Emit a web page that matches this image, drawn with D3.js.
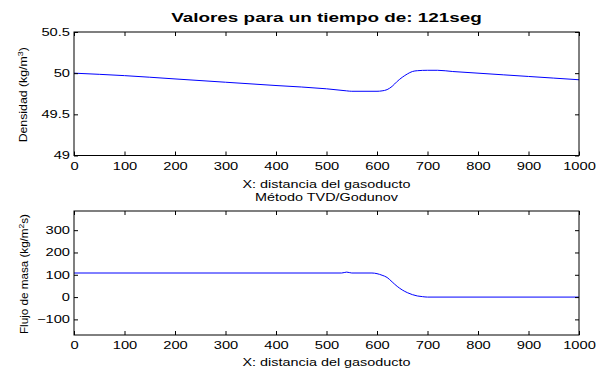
<!DOCTYPE html>
<html>
<head>
<meta charset="utf-8">
<script src="https://cdn.jsdelivr.net/npm/d3@7"></script>
<style>
	body { margin: 0; background: #fff; }
	svg text { font-family: Arial, "Liberation Sans", sans-serif; fill: #000; }
</style>
</head>
<body>
<div id="chart"></div>
<script>
// densidad a lo largo del gasoducto
var densX = [0, 100, 200, 300, 400, 500, 540, 550, 600, 610, 620, 630, 640, 650, 660, 670, 680, 700, 720, 750, 800, 850, 900, 950, 1000];
var densY = [50.00, 49.97, 49.93, 49.89, 49.85, 49.81, 49.785, 49.78, 49.78, 49.785, 49.80, 49.84, 49.90, 49.95, 49.99, 50.02, 50.03, 50.035, 50.035, 50.02, 50.00, 49.98, 49.96, 49.94, 49.92];

// flujo de masa
var flujoX = [0, 530, 540, 550, 590, 600, 610, 620, 630, 640, 650, 660, 670, 680, 690, 700, 1000];
var flujoY = [108, 108, 112, 108, 108, 105, 98, 88, 68, 48, 32, 20, 11, 5, 2, 0, 0];

var xTicks = [0, 100, 200, 300, 400, 500, 600, 700, 800, 900, 1000];
var densTicks = [49, 49.5, 50, 50.5];
var flujoTicks = [-100, 0, 100, 200, 300];

var W = 607, H = 369;
var LEFT = 74, RIGHT = 579;
var TICK = 4;
var TICK_SX = 1.4;   // texto ensanchado como en la figura original
var LABEL_SX = 1.31;

var svg = d3.select("#chart").append("svg")
	.attr("width", W)
	.attr("height", H);

var x = d3.scaleLinear().domain([0, 1000]).range([LEFT, RIGHT]);

function drawPanel(top, bottom, yDomain, yTicks, xs, ys, fmt) {
	var y = d3.scaleLinear().domain(yDomain).range([bottom, top]);
	var g = svg.append("g");

	var line = d3.line()
		.x(function(d, i) { return x(xs[i]); })
		.y(function(d, i) { return y(ys[i]); })
		.curve(d3.curveMonotoneX);
	g.append("path")
		.datum(ys)
		.attr("d", line)
		.attr("fill", "none")
		.attr("stroke", "#0000ff")
		.attr("stroke-width", 1);

	var bottomAx = g.append("g").attr("transform", "translate(0," + bottom + ")")
		.call(d3.axisBottom(x).tickValues(xTicks).tickSize(-TICK).tickPadding(7).tickFormat(d3.format("d")));
	var topAx = g.append("g").attr("transform", "translate(0," + top + ")")
		.call(d3.axisTop(x).tickValues(xTicks).tickSize(-TICK).tickFormat(""));
	var leftAx = g.append("g").attr("transform", "translate(" + LEFT + ",0)")
		.call(d3.axisLeft(y).tickValues(yTicks).tickSize(-TICK).tickPadding(4).tickFormat(fmt));
	var rightAx = g.append("g").attr("transform", "translate(" + RIGHT + ",0)")
		.call(d3.axisRight(y).tickValues(yTicks).tickSize(-TICK).tickFormat(""));

	[bottomAx, topAx, leftAx, rightAx].forEach(function(a) {
		a.select(".domain").remove();
		a.selectAll("line").attr("stroke", "#000");
		a.selectAll("text")
			.attr("font-size", "10.5px")
			.attr("fill", "#000")
			.attr("transform", "scale(" + TICK_SX + ",1)");
	});
	leftAx.selectAll("text").attr("x", -4 / TICK_SX);

	g.append("rect")
		.attr("x", LEFT).attr("y", top)
		.attr("width", RIGHT - LEFT).attr("height", bottom - top)
		.attr("fill", "none")
		.attr("stroke", "#000")
		.attr("stroke-width", 1);
	return y;
}

drawPanel(32, 155.5, [49, 50.5], densTicks, densX, densY, function(d) { return String(d); });
drawPanel(211, 335, [-170, 386], flujoTicks, flujoX, flujoY, d3.format("d"));

var midX = (LEFT + RIGHT) / 2;

function label(px, py, sx, size, txt, bold) {
	var t = svg.append("g")
		.attr("transform", "translate(" + px + "," + py + ") scale(" + sx + ",1)")
		.append("text")
		.attr("text-anchor", "middle")
		.attr("font-size", size)
		.text(txt);
	if (bold) t.attr("font-weight", "bold");
	return t;
}

label(midX, 22, 1.4, "13.5px", "Valores para un tiempo de: 121seg", true);
label(midX, 188, LABEL_SX, "11px", "X: distancia del gasoducto");
label(midX, 200.5, LABEL_SX, "11px", "Método TVD/Godunov");
label(midX, 366, LABEL_SX, "11px", "X: distancia del gasoducto");

// y labels with superscripts
var lab1 = svg.append("text")
	.attr("transform", "translate(27," + ((32 + 155.5) / 2 + 1) + ") rotate(-90) scale(1.12,1)")
	.attr("text-anchor", "middle")
	.attr("font-size", "11px");
lab1.append("tspan").text("Densidad (kg/m");
lab1.append("tspan").attr("dy", -4).attr("font-size", "8px").text("3");
lab1.append("tspan").attr("dy", 4).text(")");

var lab2 = svg.append("text")
	.attr("transform", "translate(27.5," + ((211 + 335) / 2 + 1) + ") rotate(-90) scale(1.06,1)")
	.attr("text-anchor", "middle")
	.attr("font-size", "11px");
lab2.append("tspan").text("Flujo de masa (kg/m");
lab2.append("tspan").attr("dy", -4).attr("font-size", "8px").text("2");
lab2.append("tspan").attr("dy", 4).text("s)");
</script>
</body>
</html>
